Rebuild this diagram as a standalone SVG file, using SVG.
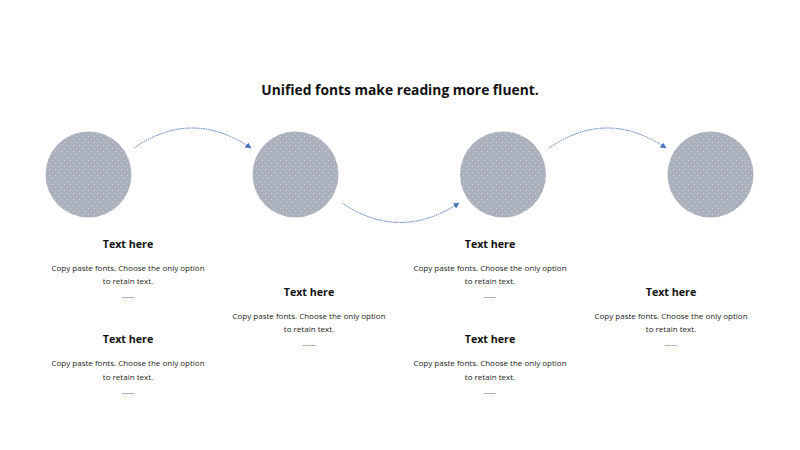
<svg xmlns="http://www.w3.org/2000/svg" width="800" height="450" viewBox="0 0 800 450">
<defs>
<pattern id="dots" width="6" height="6" patternUnits="userSpaceOnUse">
<rect width="6" height="6" fill="#aab0bc"/>
<circle cx="1.5" cy="1.5" r="0.5" fill="#dde1e8"/>
<circle cx="4.5" cy="4.5" r="0.5" fill="#dde1e8"/>
</pattern>
<marker id="arr" viewBox="0 0 10 10" refX="9" refY="5" markerWidth="6" markerHeight="6" orient="auto" markerUnits="userSpaceOnUse">
<path d="M0,0 L10,5 L0,10 Z" fill="#4472c4"/>
</marker>
<style>
.node{fill:url(#dots);}
.conn{fill:none;stroke:#4a72c0;stroke-width:1;stroke-dasharray:1.5 0.8;}
.title{font-family:"Open Sans","Liberation Sans",sans-serif;font-weight:bold;font-size:13.8px;fill:#111;text-anchor:middle;}
.head{font-family:"Open Sans","Liberation Sans",sans-serif;font-weight:bold;font-size:10.7px;fill:#111;text-anchor:middle;}
.body{font-family:"Open Sans","Liberation Sans",sans-serif;font-size:8px;fill:#222;text-anchor:middle;}
</style>
</defs>
<rect width="800" height="450" fill="#ffffff"/>
<text class="title" x="400" y="95">Unified fonts make reading more fluent.</text>
<g id="connectors">
<path class="conn" d="M134,148 Q192,108 251,148" marker-end="url(#arr)"/>
<path class="conn" d="M342,203 Q400,242 459,203" marker-end="url(#arr)"/>
<path class="conn" d="M549,148 Q607,108 666,148" marker-end="url(#arr)"/>
</g>
<g id="node1"><circle class="node" cx="88.5" cy="174.5" r="43"/></g>
<g id="node2"><circle class="node" cx="295.5" cy="174.5" r="43"/></g>
<g id="node3"><circle class="node" cx="503" cy="174.5" r="43"/></g>
<g id="node4"><circle class="node" cx="710.5" cy="174.5" r="43"/></g>
<g id="text1">
<text class="head" x="128" y="247.5">Text here</text>
<text class="body" x="128" y="271">Copy paste fonts. Choose the only option</text>
<text class="body" x="128" y="284">to retain text.</text>
<text class="body" x="128" y="298">……</text>
</g>
<g id="text2">
<text class="head" x="128" y="342.5">Text here</text>
<text class="body" x="128" y="366">Copy paste fonts. Choose the only option</text>
<text class="body" x="128" y="380">to retain text.</text>
<text class="body" x="128" y="394">……</text>
</g>
<g id="text3">
<text class="head" x="309" y="295.5">Text here</text>
<text class="body" x="309" y="319">Copy paste fonts. Choose the only option</text>
<text class="body" x="309" y="332">to retain text.</text>
<text class="body" x="309" y="346">……</text>
</g>
<g id="text4">
<text class="head" x="490" y="247.5">Text here</text>
<text class="body" x="490" y="271">Copy paste fonts. Choose the only option</text>
<text class="body" x="490" y="284">to retain text.</text>
<text class="body" x="490" y="298">……</text>
</g>
<g id="text5">
<text class="head" x="490" y="342.5">Text here</text>
<text class="body" x="490" y="366">Copy paste fonts. Choose the only option</text>
<text class="body" x="490" y="380">to retain text.</text>
<text class="body" x="490" y="394">……</text>
</g>
<g id="text6">
<text class="head" x="671" y="295.5">Text here</text>
<text class="body" x="671" y="319">Copy paste fonts. Choose the only option</text>
<text class="body" x="671" y="332">to retain text.</text>
<text class="body" x="671" y="346">……</text>
</g>
</svg>
